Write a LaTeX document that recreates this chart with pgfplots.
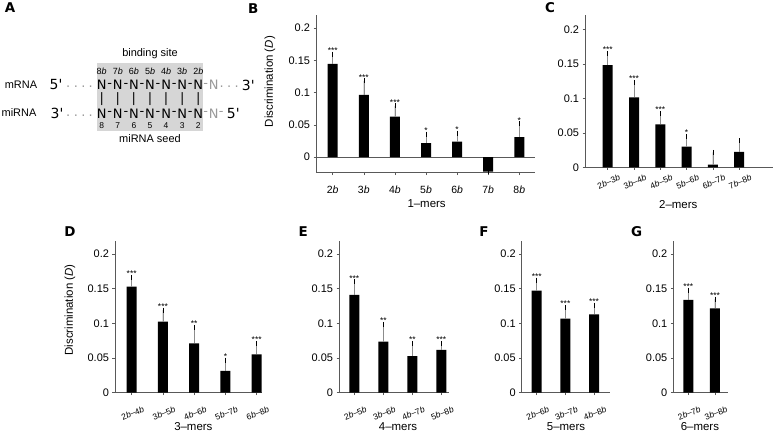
\documentclass[border=0pt]{standalone}
\usepackage{fontspec}
\setmainfont{Liberation Sans}
\newfontfamily\dejavu{DejaVu Sans}
\usepackage{pgfplots}
\pgfplotsset{compat=1.18}
\usepackage{pgfplotstable}

\pgfplotstableread{
x y e s
0 0.1447 0.0150 ***
1 0.0966 0.0217 ***
2 0.0630 0.0165 ***
3 0.0217 0.0140 *
4 0.0242 0.0130 *
5 -0.0223 0 {}
6 0.0310 0.0206 *
}\Bdata
\pgfplotstableread{
x y e s
0 0.1480 0.0170 ***
1 0.1014 0.0216 ***
2 0.0623 0.0160 ***
3 0.0299 0.0145 *
4 0.0039 0.0178 {}
5 0.0222 0.0164 {}
}\Cdata
\pgfplotstableread{
x y e s
0 0.1529 0.0135 ***
1 0.1024 0.0168 ***
2 0.0712 0.0231 **
3 0.0313 0.0158 *
4 0.0553 0.0159 ***
}\Ddata
\pgfplotstableread{
x y e s
0 0.1409 0.0191 ***
1 0.0736 0.0250 **
2 0.0529 0.0183 **
3 0.0616 0.0096 ***
}\Edata
\pgfplotstableread{
x y e s
0 0.1471 0.0154 ***
1 0.1067 0.0164 ***
2 0.1130 0.0134 ***
}\Fdata
\pgfplotstableread{
x y e s
0 0.1337 0.0143 ***
1 0.1217 0.0133 ***
}\Gdata

\pgfplotsset{
  panel/.style={
    anchor=south west,
    axis x line*=bottom, axis y line*=left,
    axis line style={black!65, line width=0.6pt},
    tick align=outside, major tick length=2.5bp,
    tick style={black!65, line width=0.5pt},
    ytick={0,0.05,0.1,0.15,0.2}, yticklabels={0,0.05,0.1,0.15,0.2},
    yticklabel style={font=\fontsize{11}{12}\selectfont},
    xlabel style={font=\fontsize{11.5}{13}\selectfont},
    ylabel style={font=\fontsize{11.5}{13}\selectfont},
    clip=false,
  },
  rotlab/.style={xticklabel style={font=\fontsize{8.5}{9}\selectfont, anchor=center, inner sep=0pt, xshift=1bp, yshift=-#1, rotate=22}},
  bars/.style={ybar, bar width=10bp, fill=black, draw=none,
    error bars/.cd, y dir=plus, y explicit,
    error bar style={draw=black!45, line width=0.6pt},
    error mark options={draw=black, mark size=2.5bp, line width=0.5pt}},
  stars/.style={draw=none, mark=none, nodes near coords, point meta=explicit symbolic,
    nodes near coords style={font=\fontsize{8.5}{8.5}\selectfont, anchor=south, inner sep=0.5bp}},
}

\begin{document}
\begin{tikzpicture}
% ---------- Panel A ----------
\fill[black!16] (97bp,305bp) rectangle (203bp,373bp);
\node[font=\fontsize{11}{12}\selectfont] at (150bp,382bp) {binding site};
\node[font=\fontsize{11}{12}\selectfont] at (150bp,297bp) {miRNA seed};
\node[font=\fontsize{11}{12}\selectfont] at (21bp,351.5bp) {mRNA};
\node[font=\fontsize{11}{12}\selectfont] at (19bp,323bp) {miRNA};
\begin{scope}[font=\dejavu\fontsize{14}{16}\selectfont]
\node at (56bp,351bp) {5'};
\node at (57bp,322.7bp) {3'};
\node at (248.3bp,351bp) {3'};
\node at (233.3bp,322.7bp) {5'};
\end{scope}
\begin{scope}[font=\dejavu\fontsize{13}{15}\selectfont]
\foreach \xx in {68.3,76,83.5,90.8}{
  \node[black!40] at (\xx bp,349bp) {.};
  \node[black!40] at (\xx bp,320.7bp) {.};
}
\foreach \xx in {221.7,229.2,236.7}{
  \node[black!40] at (\xx bp,349bp) {.};
}
\foreach \i/\lab in {0/8,1/7,2/6,3/5,4/4,5/3,6/2}{
  \pgfmathsetmacro{\xx}{101.7+16.1*\i}
  \node at (\xx bp,351bp) {N};
  \node at (\xx bp,322.7bp) {N};
  \node at (\xx bp,337bp) {|};
  \node[font=\fontsize{9}{10}\selectfont] at (\xx bp,365bp) {\lab\textit{b}};
  \node[font=\fontsize{8.5}{10}\selectfont] at (\xx bp,310bp) {\lab};
}
\foreach \i in {0,...,5}{
  \pgfmathsetmacro{\xx}{109.75+16.1*\i}
  \node at (\xx bp,351bp) {-};
  \node at (\xx bp,322.7bp) {-};
}
\node[black!40] at (205.8bp,351bp) {-};
\node[black!40] at (213.6bp,351bp) {N};
\node[black!40] at (205.8bp,322.7bp) {-};
\node[black!40] at (213.6bp,322.7bp) {N};
\node[black!40] at (221.2bp,322.7bp) {-};
\end{scope}
% panel letters
\begin{scope}[font=\dejavu\bfseries\fontsize{13.5}{15}\selectfont]
\node at (10bp,428.7bp) {A};
\node at (253.3bp,427.7bp) {B};
\node at (550bp,428bp) {C};
\node at (70bp,204.3bp) {D};
\node at (303.3bp,204.3bp) {E};
\node at (484bp,204.3bp) {F};
\node at (636.7bp,204.3bp) {G};
\end{scope}

% ---------- Panel B ----------
\begin{axis}[panel, at={(316bp,263.3bp)},
  x=31.1bp, y=645bp, xmin=-0.537, xmax=6.505, ymin=-0.024, ymax=0.2206,
  xtick={0,...,6},
  xticklabels={2\textit{b},3\textit{b},4\textit{b},5\textit{b},6\textit{b},7\textit{b},8\textit{b}},
  xticklabel style={font=\fontsize{10.5}{12}\selectfont, anchor=center, yshift=-15bp},
  xlabel={1–mers}, xlabel style={at={(axis description cs:0.505,0)}, anchor=center, yshift=-31.3bp},
  ylabel={Discrimination (\textit{D})},
  ylabel style={at={(axis description cs:0,0.577)}, anchor=center, yshift=46bp},
]
\addplot[black!65, line width=0.6pt] coordinates {(-0.537,0) (6.505,0)};
\addplot[bars] table[x=x, y=y, y error=e] {\Bdata};
\addplot[stars] table[x=x, y expr=\thisrow{y}+\thisrow{e}, meta=s] {\Bdata};
\end{axis}

% ---------- Panel C ----------
\begin{axis}[panel, rotlab=12bp, at={(585bp,268.7bp)},
  x=26.3bp, y=690bp, xmin=-0.863, xmax=6.285, ymin=0, ymax=0.2207,
  xtick={0,...,5},
  xticklabels={2\textit{b}–3\textit{b},3\textit{b}–4\textit{b},4\textit{b}–5\textit{b},5\textit{b}–6\textit{b},6\textit{b}–7\textit{b},7\textit{b}–8\textit{b}},
  xlabel={2–mers}, xlabel style={at={(axis description cs:0.496,0)}, anchor=center, yshift=-37.7bp},
]
\addplot[bars] table[x=x, y=y, y error=e] {\Cdata};
\addplot[stars] table[x=x, y expr=\thisrow{y}+\thisrow{e}, meta=s] {\Cdata};
\end{axis}

% ---------- Panel D ----------
\begin{axis}[panel, rotlab=18bp, at={(115bp,43.3bp)},
  x=31.25bp, y=693.5bp, xmin=-0.534, xmax=4.17, ymin=0, ymax=0.2192,
  xtick={0,...,4},
  xticklabels={2\textit{b}–4\textit{b},3\textit{b}–5\textit{b},4\textit{b}–6\textit{b},5\textit{b}–7\textit{b},6\textit{b}–8\textit{b}},
  xlabel={3–mers}, xlabel style={at={(axis description cs:0.533,0)}, anchor=center, yshift=-34.3bp},
  ylabel={Discrimination (\textit{D})},
  ylabel style={at={(axis description cs:0,0.544)}, anchor=center, yshift=45bp},
]
\addplot[bars] table[x=x, y=y, y error=e] {\Ddata};
\addplot[stars] table[x=x, y expr=\thisrow{y}+\thisrow{e}, meta=s] {\Ddata};
\end{axis}

% ---------- Panel E ----------
\begin{axis}[panel, rotlab=18bp, at={(339bp,43.3bp)},
  x=29bp, y=693.5bp, xmin=-0.528, xmax=3.276, ymin=0, ymax=0.2192,
  xtick={0,...,3},
  xticklabels={2\textit{b}–5\textit{b},3\textit{b}–6\textit{b},4\textit{b}–7\textit{b},5\textit{b}–8\textit{b}},
  xlabel={4–mers}, xlabel style={at={(axis description cs:0.535,0)}, anchor=center, yshift=-34.3bp},
]
\addplot[bars] table[x=x, y=y, y error=e] {\Edata};
\addplot[stars] table[x=x, y expr=\thisrow{y}+\thisrow{e}, meta=s] {\Edata};
\end{axis}

% ---------- Panel F ----------
\begin{axis}[panel, rotlab=18bp, at={(521.7bp,43.3bp)},
  x=28.65bp, y=693.5bp, xmin=-0.524, xmax=2.56, ymin=0, ymax=0.2192,
  xtick={0,...,2},
  xticklabels={2\textit{b}–6\textit{b},3\textit{b}–7\textit{b},4\textit{b}–8\textit{b}},
  xlabel={5–mers}, xlabel style={at={(axis description cs:0.502,0)}, anchor=center, yshift=-34.3bp},
]
\addplot[bars] table[x=x, y=y, y error=e] {\Fdata};
\addplot[stars] table[x=x, y expr=\thisrow{y}+\thisrow{e}, meta=s] {\Fdata};
\end{axis}

% ---------- Panel G ----------
\begin{axis}[panel, rotlab=18bp, at={(673.3bp,43.3bp)},
  x=26.7bp, y=693.5bp, xmin=-0.56, xmax=1.476, ymin=0, ymax=0.2192,
  xtick={0,...,1},
  xticklabels={2\textit{b}–7\textit{b},3\textit{b}–8\textit{b}},
  xlabel={6–mers}, xlabel style={at={(axis description cs:0.49,0)}, anchor=center, yshift=-34.3bp},
]
\addplot[bars] table[x=x, y=y, y error=e] {\Gdata};
\addplot[stars] table[x=x, y expr=\thisrow{y}+\thisrow{e}, meta=s] {\Gdata};
\end{axis}

\pgfresetboundingbox
\useasboundingbox (0,0) rectangle (774bp,436bp);
\end{tikzpicture}
\end{document}
